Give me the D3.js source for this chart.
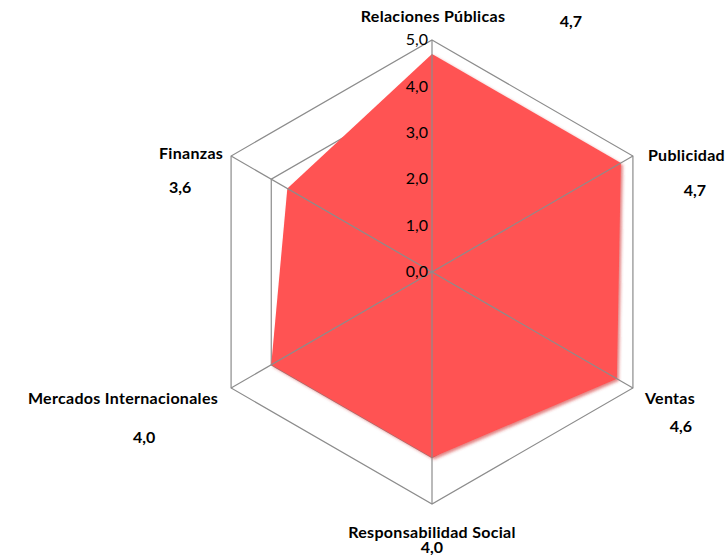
<!DOCTYPE html>
<html><head><meta charset="utf-8">
<script src="https://cdn.jsdelivr.net/npm/d3@7"></script>
<style>body{margin:0;background:#fff;} svg{display:block;}</style>
</head><body>
<svg id="c" width="728" height="555"></svg>
<script>
const categories = ["Relaciones Públicas","Publicidad","Ventas","Responsabilidad  Social","Mercados Internacionales","Finanzas"];
const values = [4.7,4.7,4.6,4.0,4.0,3.6];
const valueLabels = ["4,7","4,7","4,6","4,0","4,0","3,6"];
const tickValues = [0,1,2,3,4,5];
const tickLabels = ["0,0","1,0","2,0","3,0","4,0","5,0"];

// layout (label anchor points relative to outer vertex)
const layout = [
  {nx:1, ny:-24, anchor:"middle", vx:139, vy:-19},
  {nx:15, ny:-1, anchor:"start", vx:62, vy:34},
  {nx:12, ny:10, anchor:"start", vx:48, vy:38},
  {nx:0, ny:28, anchor:"middle", vx:0, vy:43},
  {nx:-13, ny:10, anchor:"end", vx:-87, vy:49},
  {nx:-40, ny:-3, anchor:"middle", vx:-51, vy:31}
];

const svg = d3.select("#c");
const cx = 432, cy = 272, R = 232;
const r = d3.scaleLinear().domain([0,5]).range([0,R]);
const n = categories.length;
const ang = i => -Math.PI/2 + i*2*Math.PI/n;
const pt = (i,v) => [cx + r(v)*Math.cos(ang(i)), cy + r(v)*Math.sin(ang(i))];
const font = "Lato, 'Open Sans', sans-serif";
const grid = "#8c8c8c";

const g = svg.append("g");
// rings
tickValues.filter(t=>t>0).forEach(t=>{
  g.append("path")
   .attr("d", d3.line()(d3.range(n).map(i=>pt(i,t))) + "Z")
   .attr("fill","none").attr("stroke",grid).attr("stroke-width",1.2);
});

const defs = svg.append("defs");
const f = defs.append("filter").attr("id","sh").attr("x","-10%").attr("y","-10%").attr("width","120%").attr("height","120%");
f.append("feGaussianBlur").attr("in","SourceAlpha").attr("stdDeviation",1.5).attr("result","b");
f.append("feOffset").attr("in","b").attr("dx",2).attr("dy",2).attr("result","o");
f.append("feFlood").attr("flood-color","#d03030").attr("flood-opacity",0.6);
f.append("feComposite").attr("in2","o").attr("operator","in").attr("result","s");
const m = f.append("feMerge"); m.append("feMergeNode").attr("in","s"); m.append("feMergeNode").attr("in","SourceGraphic");

g.append("path")
 .datum(values)
 .attr("d", d => d3.line()(d.map((v,i)=>pt(i,v))) + "Z")
 .attr("fill","#ff5252").attr("stroke","none").attr("filter","url(#sh)");

// spokes
d3.range(n).forEach(i=>{
  const p = pt(i,5);
  g.append("line").attr("x1",cx).attr("y1",cy).attr("x2",p[0]).attr("y2",p[1])
   .attr("stroke",grid).attr("stroke-width",1.2);
});

// tick labels
tickValues.forEach((t,k)=>{
  g.append("text").attr("x",cx-4).attr("y",cy - r(t)).attr("dy","0.32em")
   .attr("text-anchor","end").attr("font-family",font).attr("font-size",16)
   .attr("fill","#000").text(tickLabels[k]);
});

// category and value labels
categories.forEach((c,i)=>{
  const p = pt(i,5), L = layout[i];
  g.append("text").attr("x",p[0]+L.nx).attr("y",p[1]+L.ny).attr("dy","0.35em")
   .attr("text-anchor",L.anchor).attr("font-family",font).attr("font-weight","bold")
   .attr("font-size",16).attr("letter-spacing",0.3).text(c);
  g.append("text").attr("x",p[0]+L.vx).attr("y",p[1]+L.vy).attr("dy","0.35em")
   .attr("text-anchor","middle").attr("font-family",font).attr("font-weight","bold")
   .attr("font-size",16).text(valueLabels[i]);
});
</script>
</body></html>
